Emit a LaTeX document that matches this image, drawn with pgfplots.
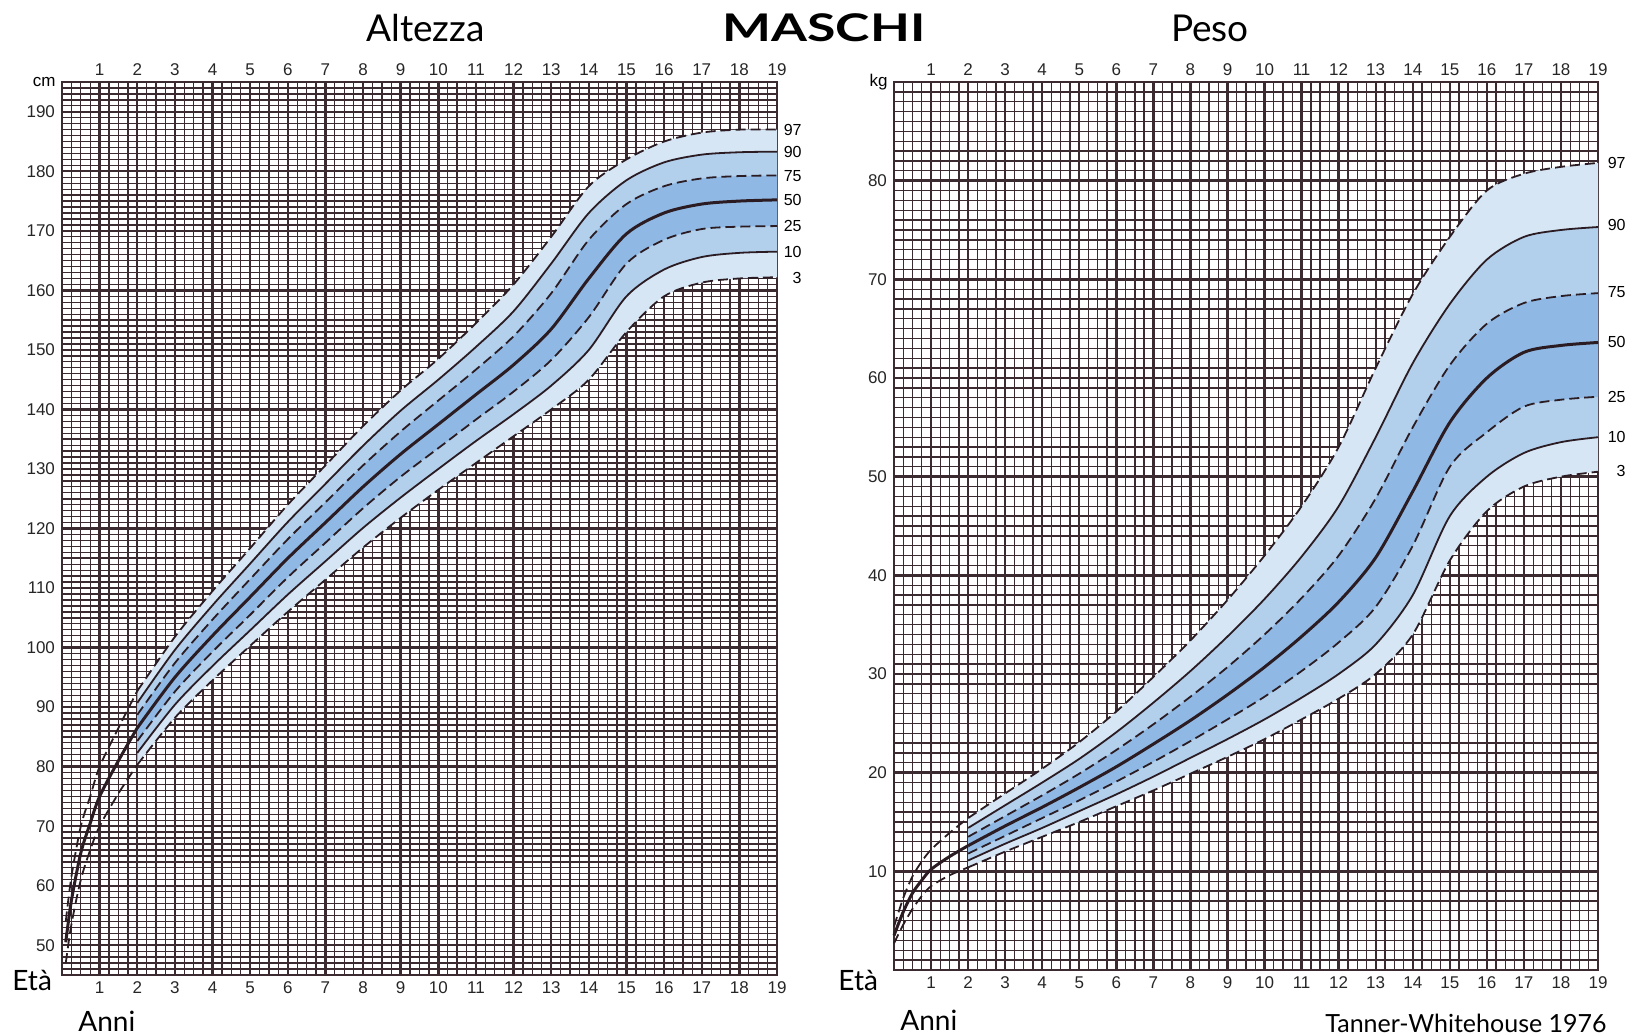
\documentclass[border=0pt]{standalone}
\usepackage{fontspec}
\setmainfont{Lato}
\newfontfamily\arial{Liberation Sans}
\usepackage{pgfplots}
\usepackage{pgfplotstable}
\pgfplotsset{compat=1.18}
\usepgfplotslibrary{fillbetween}

\definecolor{GridInk}{HTML}{3B2A30}
\definecolor{CurveInk}{HTML}{2A1C22}
\definecolor{ShadeA}{HTML}{D6E6F5}
\definecolor{ShadeB}{HTML}{B2CFEC}
\definecolor{ShadeC}{HTML}{8FB9E4}

% altezza 0-2 anni (solo 3, 50, 97)
\pgfplotstableread{
age  p3   p50  p97
0.10 47.0 50.5 54.0
0.25 53.5 57.5 61.5
0.50 61.0 65.5 70.0
0.75 66.0 70.5 75.0
1.00 70.0 75.0 80.0
1.50 75.5 81.0 86.5
2.00 80.3 86.5 92.7
}\hinf

% altezza 2-19 anni
\pgfplotstableread{
age p3    p10   p25   p50   p75   p90   p97
2   80.3  82.3  84.3  86.5  88.7  90.7  92.7
3   88.2  90.4  92.6  95.0  97.4  99.6  101.8
4   94.5  96.9  99.3  102.0 104.7 107.1 109.5
5   100.3 102.9 105.5 108.5 111.5 114.1 116.7
6   106.0 108.9 111.8 115.0 118.2 121.1 124.0
7   111.4 114.5 117.6 121.0 124.4 127.5 130.6
8   116.8 120.1 123.4 127.0 130.6 133.9 137.2
9   121.8 125.2 128.7 132.5 136.3 139.8 143.2
10  126.5 130.0 133.5 137.5 141.5 145.0 148.5
11  131.0 134.7 138.3 142.5 146.7 150.5 154.5
12  135.5 139.2 143.0 147.5 152.3 156.5 161.0
13  140.0 144.0 148.3 153.5 159.5 164.5 169.0
14  145.0 150.0 155.5 162.0 168.5 173.0 177.5
15  153.0 159.0 164.5 169.5 174.5 178.5 182.0
16  159.0 163.5 168.5 173.0 177.5 181.5 185.0
17  161.3 165.6 170.3 174.5 178.8 182.8 186.5
18  162.0 166.3 170.7 175.0 179.2 183.2 187.0
19  162.2 166.5 170.8 175.2 179.3 183.3 187.0
}\htab

% peso 0-2 anni
\pgfplotstableread{
age  p3   p50  p97
0.00 2.7  3.5  4.4
0.25 4.6  5.9  7.3
0.50 6.2  7.8  9.5
0.75 7.5  9.1  11.0
1.00 8.5  10.2 12.2
1.50 9.6  11.5 13.9
2.00 10.4 12.6 15.4
}\winf

% peso 2-19 anni
\pgfplotstableread{
age p3   p10  p25  p50  p75  p90  p97
2   10.4 11.1 11.8 12.6 13.5 14.4 15.4
3   12.0 12.8 13.6 14.6 15.6 16.7 17.9
4   13.5 14.4 15.4 16.5 17.7 19.0 20.4
5   15.0 16.1 17.2 18.5 19.9 21.4 23.1
6   16.6 17.8 19.1 20.6 22.3 24.1 26.2
7   18.2 19.6 21.1 22.9 24.9 27.1 29.7
8   19.9 21.5 23.2 25.3 27.7 30.3 33.4
9   21.6 23.4 25.4 27.9 30.7 33.8 37.5
10  23.4 25.4 27.7 30.7 34.0 37.6 42.0
11  25.4 27.6 30.3 33.8 37.7 41.9 47.0
12  27.5 30.0 33.2 37.3 42.0 47.0 53.0
13  30.0 33.0 36.8 41.8 47.8 54.0 61.0
14  34.0 38.0 43.0 48.5 55.0 61.5 68.5
15  41.5 46.0 51.0 55.5 61.3 67.5 74.3
16  46.5 50.0 54.5 60.0 65.5 72.0 79.0
17  49.0 52.4 57.1 62.6 67.6 74.3 80.7
18  50.0 53.5 57.8 63.3 68.3 75.0 81.4
19  50.5 54.0 58.1 63.6 68.6 75.3 81.8
}\wtab

\pgfplotsset{
  chart/.style={
    scale only axis,
    set layers,
    clip=false,
    anchor=south west,
    xmin=0, xmax=19,
    axis line style={draw=GridInk, line width=1.3pt},
    grid=both,
    major grid style={draw=GridInk, line width=1.2pt},
    minor grid style={draw=GridInk, line width=0.65pt},
    major tick length=0pt, minor tick length=0pt,
    xtick={1,...,19},
    minor xtick={0,0.25,...,19},
    tick label style={font=\arial\fontsize{8.5}{10}\selectfont, text=black!85},
    /pgf/number format/assume math mode=true,
    extra y tick labels={},
    extra y tick style={grid=major, major grid style={draw=GridInk, line width=0.8pt}},
  },
  pct/.style={draw=CurveInk, line width=0.9pt, smooth},
  pctdash/.style={pct, dash pattern=on 5pt off 2.5pt},
  pctmid/.style={draw=CurveInk, line width=1.5pt, smooth},
  band/.style={draw=none, on layer=axis background},
}
\newcommand{\lab}{\arial\fontsize{8}{9}\selectfont}

\begin{document}
\begin{tikzpicture}

% ---------------- Altezza ----------------
\begin{axis}[chart, at={(31pt,30pt)}, width=357.5pt, height=446.5pt,
  ymin=45, ymax=195, ytick={50,60,...,190}, minor ytick={45,46,...,195},
  extra y ticks={55,65,...,185}]
\addplot[pctdash] table[x=age,y=p3]  {\hinf};
\addplot[pctmid]  table[x=age,y=p50] {\hinf};
\addplot[pctdash] table[x=age,y=p97] {\hinf};
\addplot[pctdash, name path=h3]  table[x=age,y=p3]  {\htab};
\addplot[pct,     name path=h10] table[x=age,y=p10] {\htab};
\addplot[pctdash, name path=h25] table[x=age,y=p25] {\htab};
\addplot[pctmid]                 table[x=age,y=p50] {\htab};
\addplot[pctdash, name path=h75] table[x=age,y=p75] {\htab};
\addplot[pct,     name path=h90] table[x=age,y=p90] {\htab};
\addplot[pctdash, name path=h97] table[x=age,y=p97] {\htab};
\addplot[band, fill=ShadeA] fill between[of=h97 and h3];
\addplot[band, fill=ShadeB] fill between[of=h90 and h10];
\addplot[band, fill=ShadeC] fill between[of=h75 and h25];
\pgfplotsinvokeforeach{1,...,19}{
  \node[anchor=south, inner sep=0pt, yshift=3pt, font=\arial\fontsize{8.5}{10}\selectfont, text=black!85] at (axis cs:#1,195) {#1};
}
\node[anchor=east, inner sep=0pt, xshift=-3pt, font=\arial\fontsize{8.5}{10}\selectfont] at (axis cs:0,195) {cm};
\node[anchor=east, inner sep=0pt, xshift=12.5pt, font=\lab] at (axis cs:19,187.0) {97};
\node[anchor=east, inner sep=0pt, xshift=12.5pt, font=\lab] at (axis cs:19,183.2) {90};
\node[anchor=east, inner sep=0pt, xshift=12.5pt, font=\lab] at (axis cs:19,179.2) {75};
\node[anchor=east, inner sep=0pt, xshift=12.5pt, font=\lab] at (axis cs:19,175.1) {50};
\node[anchor=east, inner sep=0pt, xshift=12.5pt, font=\lab] at (axis cs:19,170.8) {25};
\node[anchor=east, inner sep=0pt, xshift=12.5pt, font=\lab] at (axis cs:19,166.4) {10};
\node[anchor=east, inner sep=0pt, xshift=12.5pt, font=\lab] at (axis cs:19,162.1) {3};
\end{axis}

% ---------------- Peso ----------------
\begin{axis}[chart, at={(447pt,32.5pt)}, width=352pt, height=444pt,
  ymin=0, ymax=90, ytick={10,20,...,80}, minor ytick={0,1,...,90},
  extra y ticks={5,15,...,85}]
\addplot[pctdash] table[x=age,y=p3]  {\winf};
\addplot[pctmid]  table[x=age,y=p50] {\winf};
\addplot[pctdash] table[x=age,y=p97] {\winf};
\addplot[pctdash, name path=w3]  table[x=age,y=p3]  {\wtab};
\addplot[pct,     name path=w10] table[x=age,y=p10] {\wtab};
\addplot[pctdash, name path=w25] table[x=age,y=p25] {\wtab};
\addplot[pctmid]                 table[x=age,y=p50] {\wtab};
\addplot[pctdash, name path=w75] table[x=age,y=p75] {\wtab};
\addplot[pct,     name path=w90] table[x=age,y=p90] {\wtab};
\addplot[pctdash, name path=w97] table[x=age,y=p97] {\wtab};
\addplot[band, fill=ShadeA] fill between[of=w97 and w3];
\addplot[band, fill=ShadeB] fill between[of=w90 and w10];
\addplot[band, fill=ShadeC] fill between[of=w75 and w25];
\pgfplotsinvokeforeach{1,...,19}{
  \node[anchor=south, inner sep=0pt, yshift=3pt, font=\arial\fontsize{8.5}{10}\selectfont, text=black!85] at (axis cs:#1,90) {#1};
}
\node[anchor=east, inner sep=0pt, xshift=-3pt, font=\arial\fontsize{8.5}{10}\selectfont] at (axis cs:0,90) {kg};
\node[anchor=east, inner sep=0pt, xshift=14pt, font=\lab] at (axis cs:19,81.8) {97};
\node[anchor=east, inner sep=0pt, xshift=14pt, font=\lab] at (axis cs:19,75.5) {90};
\node[anchor=east, inner sep=0pt, xshift=14pt, font=\lab] at (axis cs:19,68.7) {75};
\node[anchor=east, inner sep=0pt, xshift=14pt, font=\lab] at (axis cs:19,63.7) {50};
\node[anchor=east, inner sep=0pt, xshift=14pt, font=\lab] at (axis cs:19,58.1) {25};
\node[anchor=east, inner sep=0pt, xshift=14pt, font=\lab] at (axis cs:19,54.0) {10};
\node[anchor=east, inner sep=0pt, xshift=14pt, font=\lab] at (axis cs:19,50.6) {3};
\end{axis}

% ---------------- testi ----------------
\node[anchor=base, inner sep=0pt, font=\fontsize{18.5}{20}\selectfont] at (212.75pt,496.75pt) {Altezza};
\node[anchor=base, inner sep=0pt, font=\fontsize{18.5}{20}\selectfont\bfseries] at (412pt,496.75pt) {\scalebox{1.4}[1.03]{MASCHI}};
\node[anchor=base, inner sep=0pt, font=\fontsize{18.5}{20}\selectfont] at (605pt,496.75pt) {Peso};
\node[anchor=base west, inner sep=0pt, font=\fontsize{14}{16}\selectfont] at (6pt,22.2pt) {Età};
\node[anchor=base west, inner sep=0pt, font=\fontsize{14}{16}\selectfont] at (39pt,1.65pt) {Anni};
\node[anchor=base west, inner sep=0pt, font=\fontsize{14}{16}\selectfont] at (419pt,22.5pt) {Età};
\node[anchor=base west, inner sep=0pt, font=\fontsize{14}{16}\selectfont] at (450pt,2.5pt) {Anni};
\node[anchor=base west, inner sep=0pt, font=\fontsize{12.5}{14}\selectfont] at (662.5pt,1.5pt) {Tanner-Whitehouse 1976};

\pgfresetboundingbox
\useasboundingbox (0pt,0pt) rectangle (813.5pt,517.5pt);
\end{tikzpicture}
\end{document}
